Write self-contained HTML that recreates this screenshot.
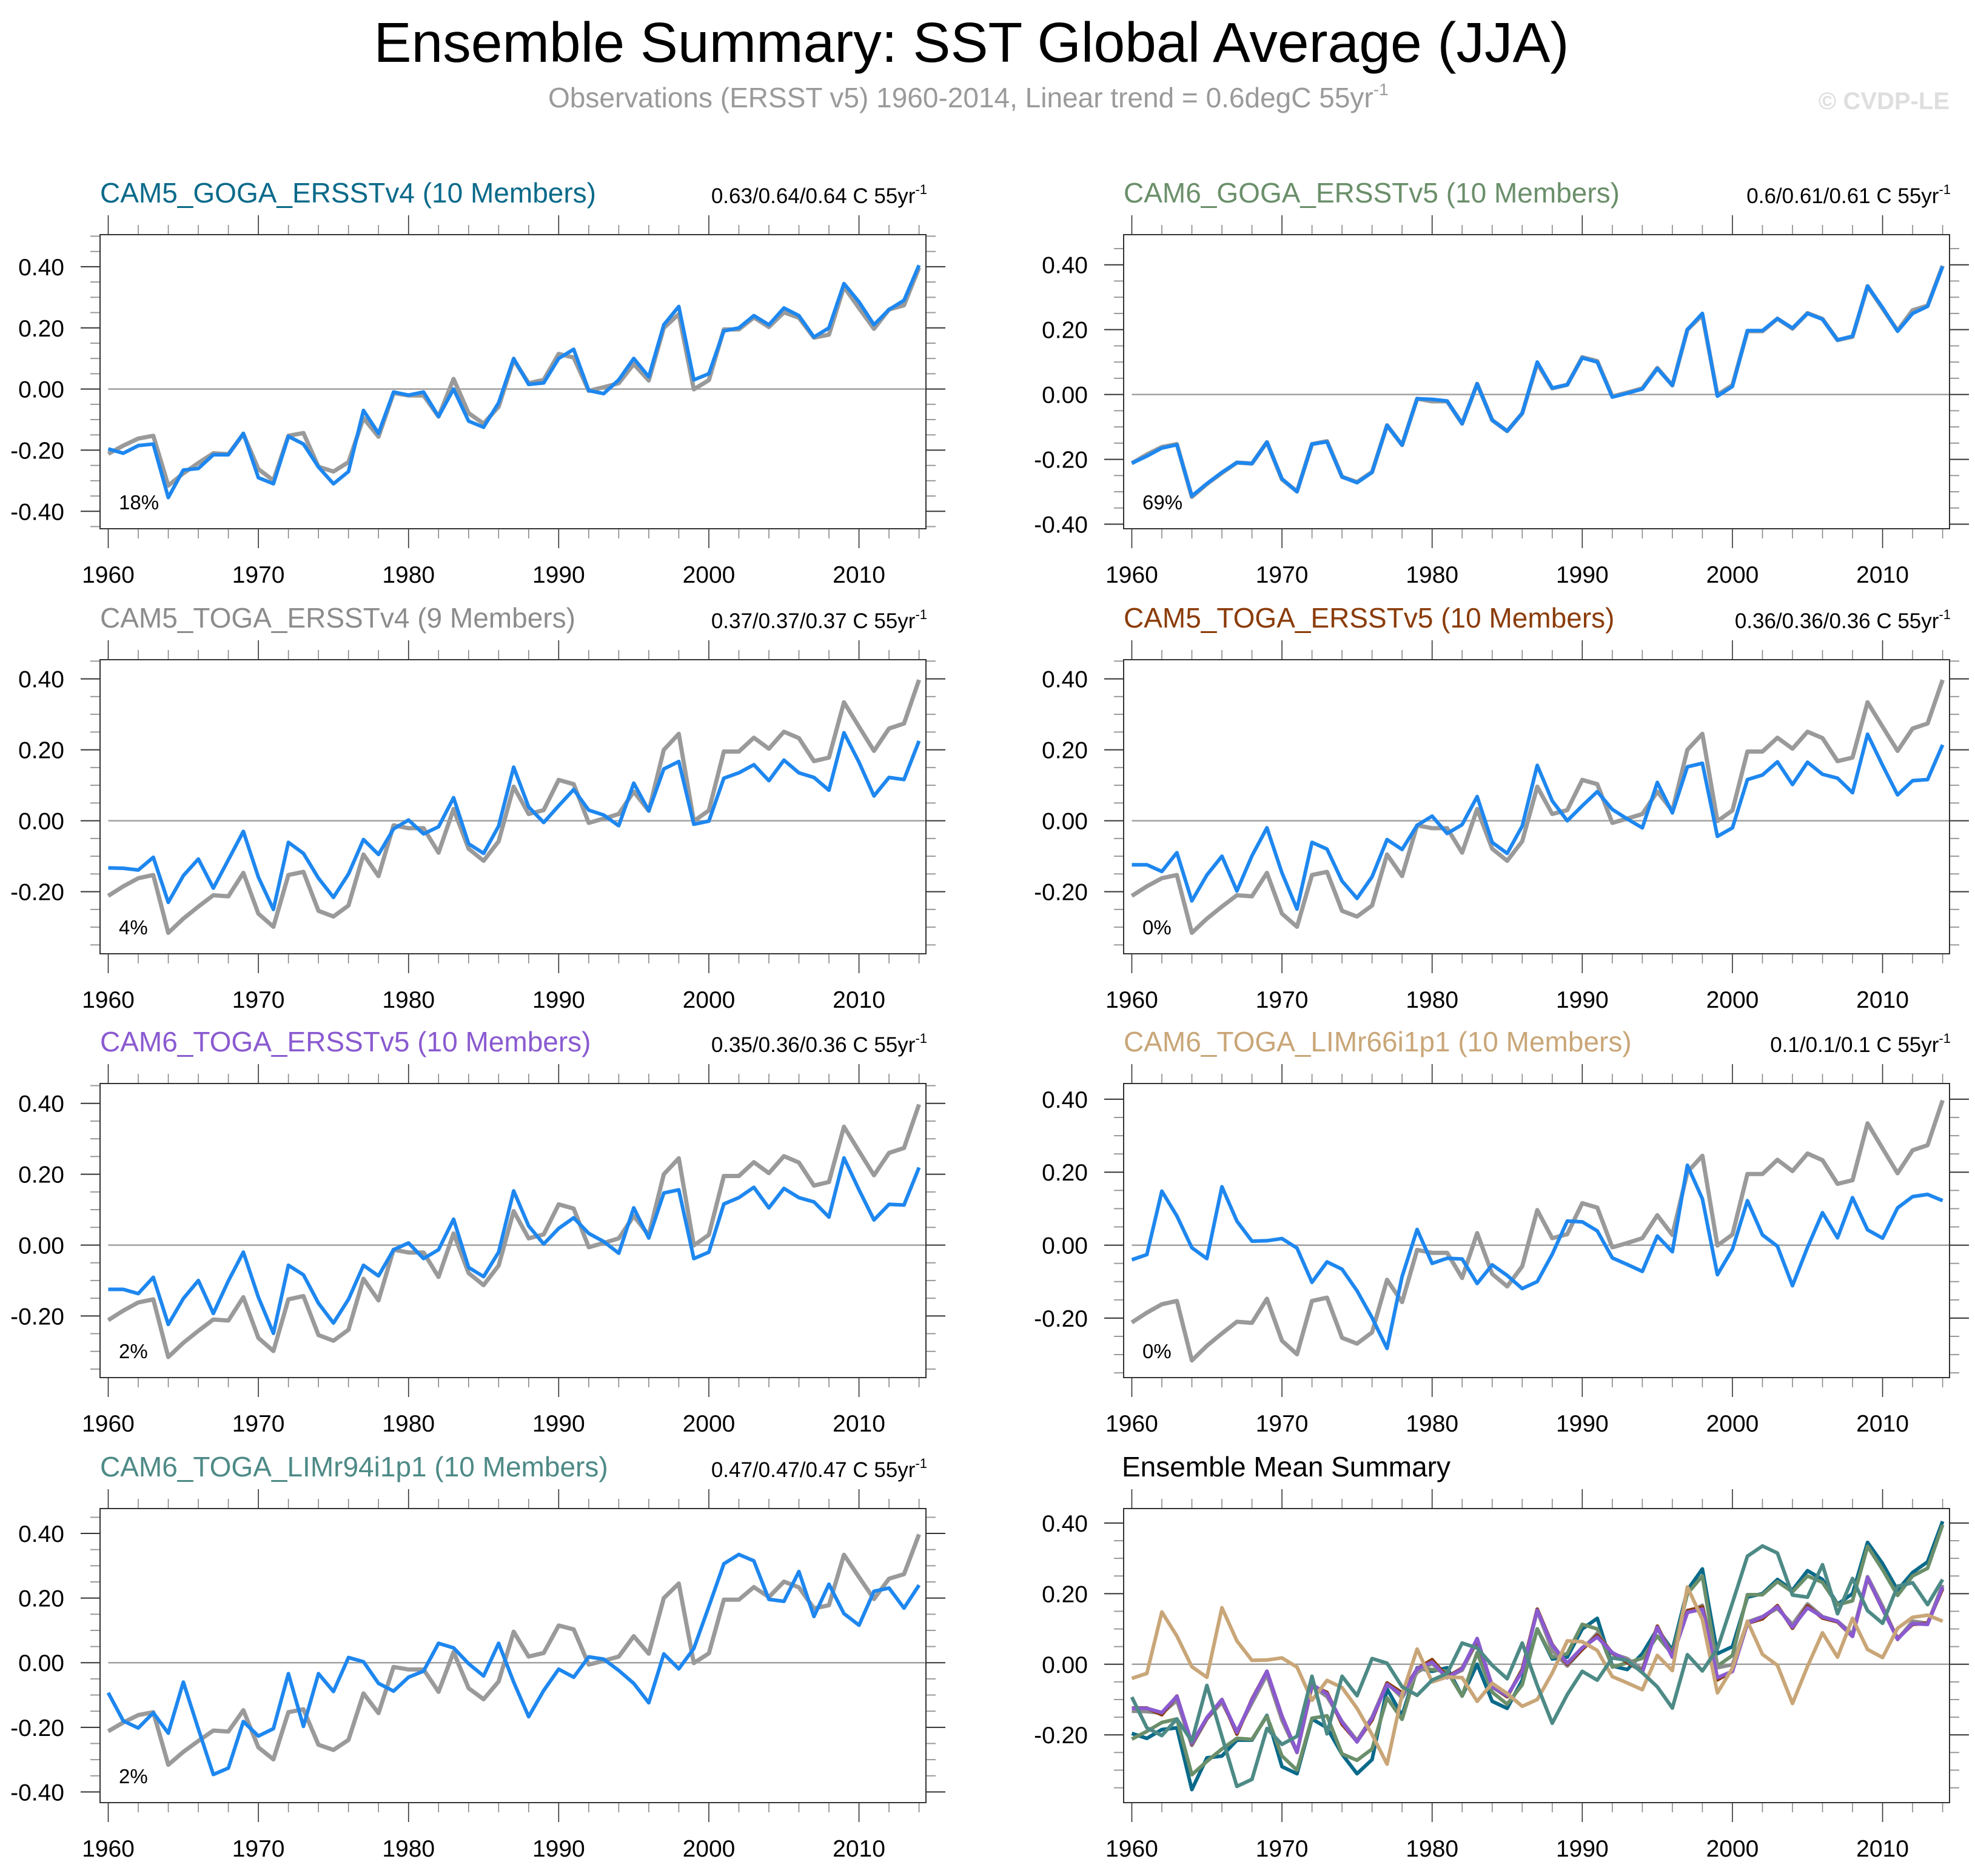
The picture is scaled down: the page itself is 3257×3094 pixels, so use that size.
<!DOCTYPE html>
<html>
<head>
<meta charset="utf-8">
<style>
  html, body { margin: 0; padding: 0; background: #fff; }
  svg { display: block; font-family: "Liberation Sans", Arial, sans-serif; }
</style>
</head>
<body>
<svg id="chart" width="3257" height="3094" viewBox="0 0 3257 3094" xmlns="http://www.w3.org/2000/svg">
  <rect x="0" y="0" width="3257" height="3094" fill="#ffffff"/>
  <text x="1602" y="102" font-size="93" text-anchor="middle" fill="#000">Ensemble Summary: SST Global Average (JJA)</text>
  <text x="904" y="177" font-size="46" fill="#9a9a9a">Observations (ERSST v5) 1960-2014, Linear trend = 0.6degC 55yr<tspan font-size="28" dy="-20">-1</tspan></text>
  <text x="3215" y="180" font-size="40" font-weight="bold" text-anchor="end" fill="#dedede">© CVDP-LE</text>
  <g id="panels"></g>
</svg>
<script>
// ---- data (1960-2014, JJA global SST anomalies) ----
const startYear = 1960;
const obs = [-0.212,-0.185,-0.162,-0.153,-0.316,-0.276,-0.242,-0.21,-0.213,-0.147,
 -0.262,-0.299,-0.153,-0.144,-0.254,-0.27,-0.239,-0.095,-0.156,-0.013,
 -0.021,-0.021,-0.09,0.033,-0.079,-0.113,-0.058,0.096,0.019,0.03,
 0.115,0.103,-0.006,0.006,0.019,0.082,0.028,0.2,0.245,-0.001,
 0.029,0.195,0.195,0.234,0.203,0.251,0.233,0.168,0.178,0.334,
 0.265,0.197,0.26,0.274,0.397];
const cam5GogaV4 = [-0.196,-0.21,-0.185,-0.18,-0.355,-0.265,-0.26,-0.215,-0.215,-0.145,
 -0.29,-0.31,-0.155,-0.18,-0.255,-0.31,-0.27,-0.07,-0.145,-0.01,
 -0.02,-0.01,-0.09,0.0,-0.105,-0.125,-0.045,0.10,0.015,0.02,
 0.10,0.13,-0.005,-0.015,0.03,0.10,0.04,0.21,0.27,0.03,
 0.05,0.19,0.20,0.24,0.21,0.265,0.24,0.17,0.20,0.345,
 0.285,0.21,0.26,0.29,0.405];
const cam6GogaV5 = [-0.212,-0.19,-0.165,-0.155,-0.313,-0.275,-0.24,-0.21,-0.213,-0.147,
 -0.26,-0.3,-0.153,-0.146,-0.254,-0.272,-0.24,-0.095,-0.156,-0.013,
 -0.015,-0.02,-0.09,0.033,-0.079,-0.113,-0.058,0.1,0.02,0.03,
 0.113,0.1,-0.008,0.004,0.017,0.08,0.028,0.2,0.25,-0.005,
 0.025,0.197,0.197,0.234,0.205,0.25,0.232,0.168,0.18,0.334,
 0.268,0.195,0.25,0.272,0.395];
const cam5TogaV4 = [-0.133,-0.134,-0.139,-0.103,-0.23,-0.155,-0.108,-0.19,-0.11,-0.03,
 -0.159,-0.25,-0.061,-0.092,-0.162,-0.216,-0.15,-0.053,-0.095,-0.023,
 0.002,-0.037,-0.017,0.065,-0.065,-0.092,-0.015,0.151,0.039,-0.005,
 0.042,0.088,0.03,0.016,-0.014,0.106,0.028,0.146,0.167,-0.01,
 -0.001,0.12,0.135,0.158,0.113,0.171,0.135,0.122,0.086,0.248,
 0.165,0.07,0.122,0.116,0.225];
const cam5TogaV5 = [-0.124,-0.124,-0.143,-0.09,-0.226,-0.153,-0.1,-0.198,-0.099,-0.02,
 -0.147,-0.249,-0.061,-0.08,-0.17,-0.219,-0.158,-0.053,-0.081,-0.013,
 0.013,-0.036,-0.011,0.068,-0.061,-0.092,-0.015,0.156,0.056,0.0,
 0.042,0.082,0.032,0.005,-0.02,0.108,0.022,0.152,0.162,-0.044,
 -0.02,0.116,0.129,0.166,0.102,0.165,0.131,0.12,0.079,0.244,
 0.156,0.073,0.113,0.116,0.214];
const cam6TogaV5 = [-0.125,-0.125,-0.137,-0.091,-0.224,-0.151,-0.1,-0.193,-0.101,-0.02,
 -0.147,-0.249,-0.057,-0.084,-0.164,-0.22,-0.153,-0.057,-0.087,-0.013,
 0.006,-0.038,-0.013,0.073,-0.063,-0.089,-0.02,0.153,0.054,0.003,
 0.047,0.077,0.033,0.01,-0.023,0.105,0.02,0.147,0.156,-0.038,
 -0.02,0.116,0.134,0.163,0.105,0.16,0.134,0.122,0.079,0.246,
 0.156,0.071,0.115,0.113,0.219];
const cam6LimR66 = [-0.04,-0.026,0.148,0.08,-0.007,-0.037,0.16,0.066,0.011,0.012,
 0.018,-0.008,-0.102,-0.046,-0.066,-0.125,-0.199,-0.283,-0.086,0.043,
 -0.05,-0.036,-0.038,-0.105,-0.054,-0.083,-0.119,-0.1,-0.025,0.066,
 0.064,0.039,-0.035,-0.053,-0.072,0.025,-0.018,0.219,0.127,-0.081,
 -0.011,0.122,0.028,-0.003,-0.111,-0.006,0.089,0.02,0.13,0.042,
 0.019,0.102,0.133,0.139,0.122];
const cam6LimR94 = [-0.093,-0.18,-0.202,-0.155,-0.218,-0.06,-0.205,-0.346,-0.326,-0.182,
 -0.227,-0.204,-0.034,-0.197,-0.034,-0.089,0.016,0.003,-0.064,-0.088,
 -0.045,-0.026,0.06,0.046,-0.003,-0.041,0.06,-0.06,-0.167,-0.086,
 -0.02,-0.045,0.018,0.011,-0.024,-0.064,-0.124,0.027,-0.019,0.044,
 0.174,0.306,0.335,0.315,0.196,0.19,0.282,0.143,0.243,0.152,
 0.116,0.221,0.231,0.169,0.24];
const xTickYears = [1960,1970,1980,1990,2000,2010];
const percentLabels = ["18%","69%","4%","0%","2%","0%","2%"];
const trendLabels = ["0.63/0.64/0.64 C 55yr","0.6/0.61/0.61 C 55yr","0.37/0.37/0.37 C 55yr",
 "0.36/0.36/0.36 C 55yr","0.35/0.36/0.36 C 55yr","0.1/0.1/0.1 C 55yr","0.47/0.47/0.47 C 55yr"];
const panelTitles = ["CAM5_GOGA_ERSSTv4 (10 Members)","CAM6_GOGA_ERSSTv5 (10 Members)",
 "CAM5_TOGA_ERSSTv4 (9 Members)","CAM5_TOGA_ERSSTv5 (10 Members)",
 "CAM6_TOGA_ERSSTv5 (10 Members)","CAM6_TOGA_LIMr66i1p1 (10 Members)",
 "CAM6_TOGA_LIMr94i1p1 (10 Members)"];

// ---- layout ----
const NS = "http://www.w3.org/2000/svg";
const colors = ["#0a6a8a","#6a8f6a","#8c8c8c","#8b3c0a","#8a5ad0","#c9a678","#4d8a86"];
const seriesList = [cam5GogaV4, cam6GogaV5, cam5TogaV4, cam5TogaV5, cam6TogaV5, cam6LimR66, cam6LimR94];
const colX = [[165,1527],[1853,3215]];
const rowTop = [387,1088,1787,2488];
const frameH = 485;
const yRanges = [[-0.457,0.505],[-0.414,0.493],[-0.375,0.454],[-0.375,0.454],
 [-0.374,0.456],[-0.363,0.443],[-0.433,0.477],[-0.392,0.441]];
const xMin = 1959.455, xMax = 2014.46;
const root = document.getElementById('panels');

function mk(tag, attrs, parent) {
  const e = document.createElementNS(NS, tag);
  for (const k in attrs) e.setAttribute(k, attrs[k]);
  (parent || root).appendChild(e);
  return e;
}

function drawPanel(idx) {
  const col = idx % 2, row = Math.floor(idx / 2);
  const L = colX[col][0], R = colX[col][1], T = rowTop[row], B = T + frameH;
  const [yMin, yMax] = yRanges[idx];
  const xs = yr => L + (yr - xMin) / (xMax - xMin) * (R - L);
  const ys = v => B - (v - yMin) / (yMax - yMin) * (B - T);
  const g = mk('g', {});
  
  

  for (let yr = 1960; yr <= 2014; yr += 2) {
    const major = yr % 10 === 0;
    const len = major ? 32 : 16;
    const x = xs(yr);
    const t1 = mk('line', {x1:x, x2:x, y1:T - len, y2:T, stroke: major ? '#333' : '#888', 'stroke-width':1.6}, g);
    
    
    const t2 = mk('line', {x1:x, x2:x, y1:B, y2:B + len, stroke: major ? '#333' : '#888', 'stroke-width':1.6}, g);
    
    
  }
  xTickYears.forEach(yr => {
    const t = mk('text', {x: xs(yr), y: B + 89, 'font-size': 39, 'text-anchor':'middle', fill:'#000'}, g);
    t.textContent = String(yr);
    
    
  });
  const kStart = Math.ceil(yMin / 0.05 - 1e-6), kEnd = Math.floor(yMax / 0.05 + 1e-6);
  for (let k = kStart; k <= kEnd; k++) {
    const v = k * 0.05;
    const major = k % 4 === 0;
    const len = major ? 32 : 16;
    const y = ys(v);
    const c = major ? '#333' : '#999';
    const a = mk('line', {x1:L - len, x2:L, y1:y, y2:y, stroke:c, 'stroke-width':2}, g);
    
    
    const b = mk('line', {x1:R, x2:R + len, y1:y, y2:y, stroke:c, 'stroke-width':2}, g);
    
    
    if (major) {
      const t = mk('text', {x: L - 59, y: y + 14, 'font-size': 39, 'text-anchor':'end', fill:'#000'}, g);
      t.textContent = v.toFixed(2).replace('-0.00','0.00');
      
      
    }
  }
  const z = mk('line', {x1: xs(1960), x2: R, y1: ys(0), y2: ys(0), stroke:'#a0a0a0', 'stroke-width':2.5}, g);
  
  

  const pts = arr => arr.map((v, i) => xs(startYear + i).toFixed(1) + ',' + ys(v).toFixed(1)).join(' ');

  if (idx < 7) {
    const o = mk('polyline', {points: pts(obs), fill:'none', stroke:'#9a9a9a', 'stroke-width':7, 'stroke-linejoin':'round'}, g);
    
    
    const s = mk('polyline', {points: pts(seriesList[idx]), fill:'none', stroke:'#1e87ef', 'stroke-width':6, 'stroke-linejoin':'round'}, g);
    
    
    const p = mk('text', {x: L + 31, y: B - 32, 'font-size': 33, fill:'#000'}, g);
    p.textContent = percentLabels[idx];
    
    
    const ti = mk('text', {x: L, y: T - 53, 'font-size': 46, fill: colors[idx]}, g);
    ti.textContent = panelTitles[idx];
    
    
    const tr = mk('text', {x: R + 2, y: T - 52, 'font-size': 35, 'text-anchor':'end', fill:'#000'}, g);
    
    
    tr.appendChild(document.createTextNode(trendLabels[idx]));
    const sup = mk('tspan', {'font-size': 22, dy: -15}, tr);
    sup.textContent = '-1';
  } else {
    seriesList.forEach((arr, i) => {
      const s = mk('polyline', {points: pts(arr), fill:'none', stroke: colors[i], 'stroke-width':6, 'stroke-linejoin':'round'}, g);
      
      
    });
    const ti = mk('text', {x: L - 3, y: T - 53, 'font-size': 46, fill: '#000'}, g);
    ti.textContent = 'Ensemble Mean Summary';
    
    
  }
  const f = mk('rect', {x:L, y:T, width:R - L, height:frameH, fill:'none', stroke:'#333', 'stroke-width':2}, g);
  
  
}

for (let i = 0; i < 8; i++) drawPanel(i);
</script>
</body>
</html>
